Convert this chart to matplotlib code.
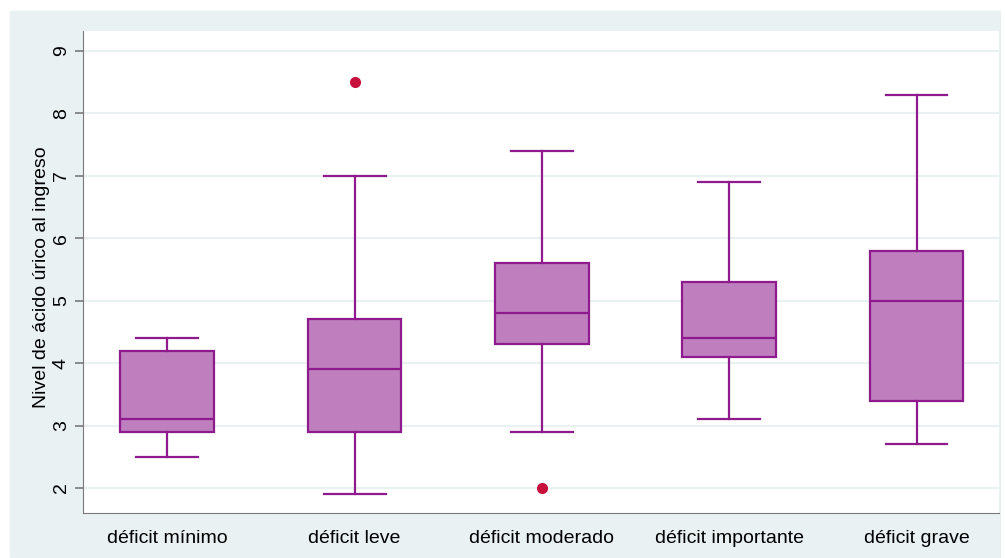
import matplotlib.pyplot as plt
from matplotlib.patches import Rectangle

plt.rcParams['font.family'] = ['Liberation Sans', 'DejaVu Sans']

# Datos (caja por grupo)
categorias = ['déficit mínimo', 'déficit leve', 'déficit moderado', 'déficit importante', 'déficit grave']
bigote_inf = [2.5, 1.9, 2.9, 3.1, 2.7]
q1 = [2.9, 2.9, 4.3, 4.1, 3.4]
mediana = [3.1, 3.9, 4.8, 4.4, 5.0]
q3 = [4.2, 4.7, 5.6, 5.3, 5.8]
bigote_sup = [4.4, 7.0, 7.4, 6.9, 8.3]
atipicos = [[], [8.5], [2.0], [], []]

color_caja = '#BF7FBF'
color_borde = '#8E1A8E'
color_fondo = '#EAF1F3'

fig = plt.figure(figsize=(10.05, 5.58), dpi=100)
fondo = Rectangle((10 / 1005, 1 - 557 / 558), 990 / 1005, 546 / 558,
                  transform=fig.transFigure, color=color_fondo, zorder=-10)
fig.add_artist(fondo)
ax = fig.add_axes([83 / 1005, 1 - 513 / 558, 916 / 1005, 482 / 558])

stats = []
for i in range(len(categorias)):
    stats.append({'whislo': bigote_inf[i], 'q1': q1[i], 'med': mediana[i],
                  'q3': q3[i], 'whishi': bigote_sup[i], 'fliers': atipicos[i]})

ax.bxp(stats, positions=range(1, 6), widths=0.5, patch_artist=True, showfliers=True,
       boxprops=dict(facecolor=color_caja, edgecolor=color_borde, linewidth=1.6),
       medianprops=dict(color=color_borde, linewidth=1.6),
       whiskerprops=dict(color=color_borde, linewidth=1.6),
       capprops=dict(color=color_borde, linewidth=1.6),
       capwidths=0.33,
       flierprops=dict(marker='o', markerfacecolor='#C8103C', markeredgecolor='#C8103C',
                       markersize=7))

ax.set_xlim(0.55, 5.44)
ax.set_ylim(1.6, 9.32)
ax.set_yticks([2, 3, 4, 5, 6, 7, 8, 9])
ax.set_xticks(range(1, 6))
ax.set_xticklabels(categorias, fontsize=14)
for lab in ax.get_yticklabels():
    lab.set_rotation(90)
    lab.set_va('center')
ax.tick_params(axis='y', labelsize=14, length=5.5, width=1.2, color='#7A7A7A', pad=4)
ax.tick_params(axis='x', length=0, pad=12)
ax.grid(axis='y', color=color_fondo, linewidth=1.5)
ax.set_axisbelow(True)
for s in ['top', 'right']:
    ax.spines[s].set_visible(False)
ax.spines['left'].set_color('#7A7A7A')
ax.spines['bottom'].set_color('#7A7A7A')
ax.set_ylabel('Nivel de ácido úrico al ingreso', fontsize=14)
ax.yaxis.set_label_coords(-0.036, 0.49)

fig.savefig('out.png', dpi=100)
